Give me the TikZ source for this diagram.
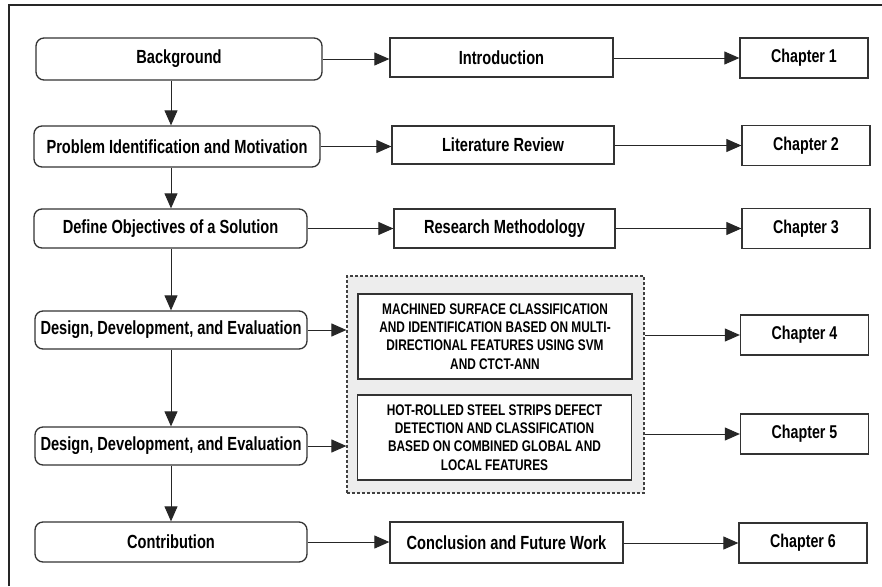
\documentclass[tikz,border=0pt]{standalone}
\usepackage{fontspec}
\setmainfont{Liberation Sans}
\newfontfamily\narrowsans[FakeStretch=0.77]{Liberation Sans}
\usetikzlibrary{arrows.meta,positioning,calc}

\begin{document}
\begin{tikzpicture}[x=1pt,y=-1pt,
  stage/.style={draw=black!80,line width=1.3pt,rounded corners=8pt,inner sep=0pt,
    font=\narrowsans\fontsize{19}{22}\selectfont\bfseries},
  part/.style={draw=black!80,line width=1.3pt,inner sep=0pt,
    font=\narrowsans\fontsize{19}{22}\selectfont\bfseries},
  chap/.style={part,minimum width=128pt,minimum height=40pt,
    font=\narrowsans\fontsize{18.5}{22}\selectfont\bfseries},
  paper/.style={part,fill=white,minimum width=274pt,minimum height=85pt,align=center,
    font=\narrowsans\fontsize{15.4}{18.3}\selectfont\bfseries},
  flow/.style={line width=1pt,draw=black!85,-{Triangle[length=15pt,width=13pt]}}]
\useasboundingbox (0,0) rectangle (882,586);
%\draw[very thin,color=gray,step=50] (0,0) grid (882,586);
\draw[line width=1.3pt,black!85] (9,586) -- (9,5) -- (882,5);

% stages
\node[stage,minimum width=286pt,minimum height=42pt] (bg) at (179,59) {Background};
\node[stage,minimum width=286pt,minimum height=41pt] (prob) at (177,146.5) {Problem Identification and Motivation};
\node[stage,minimum width=273pt,minimum height=39pt] (obj) at (170.5,228.5) {Define Objectives of a Solution};
\node[stage,minimum width=272pt,minimum height=38pt] (dde1) at (171,330) {Design, Development, and Evaluation};
\node[stage,minimum width=272pt,minimum height=38pt] (dde2) at (171,446) {Design, Development, and Evaluation};
\node[stage,minimum width=272pt,minimum height=40pt] (contrib) at (171,542) {Contribution};

% thesis parts
\node[part,minimum width=223pt,minimum height=39pt] (intro) at (501.5,57.5) {Introduction};
\node[part,minimum width=222pt,minimum height=38pt] (lit) at (503,145) {Literature Review};
\node[part,minimum width=221pt,minimum height=39pt] (meth) at (504.5,228.5) {Research Methodology};
\node[part,minimum width=233pt,minimum height=41pt] (concl) at (506.5,542.5) {Conclusion and Future Work};

\node[draw=black!75,line width=1.2pt,densely dashed,fill=black!7,minimum width=297pt,minimum height=217pt] (papers) at (495.5,384.5) {};
\node[paper] (surf) at (495,336.5) {MACHINED SURFACE CLASSIFICATION\\AND IDENTIFICATION BASED ON MULTI-\\DIRECTIONAL FEATURES USING SVM\\AND CTCT-ANN};
\node[paper] (steel) at (494.5,437.5) {HOT-ROLLED STEEL STRIPS DEFECT\\DETECTION AND CLASSIFICATION\\BASED ON COMBINED GLOBAL AND\\LOCAL FEATURES};

% chapters
\node[chap] (ch1) at (804,58) {Chapter 1};
\node[chap] (ch2) at (806,145.5) {Chapter 2};
\node[chap] (ch3) at (806,228.5) {Chapter 3};
\node[chap] (ch4) at (804.5,335) {Chapter 4};
\node[chap] (ch5) at (804.5,434) {Chapter 5};
\node[chap] (ch6) at (803,543) {Chapter 6};

% down the stages
\draw[flow] (dde1.north |- bg.south) -- (dde1.north |- prob.north);
\draw[flow] (dde1.north |- prob.south) -- (dde1.north |- obj.north);
\draw[flow] (dde1.north |- obj.south) -- (dde1.north);
\draw[flow] (dde1.south) -- (dde2.north);
\draw[flow] (dde2.south) -- (contrib.north);

% across
\draw[flow] (bg.east) -- (bg.east -| intro.west);
\draw[flow] (prob.east) -- (prob.east -| lit.west);
\draw[flow] (obj.east) -- (obj.east -| meth.west);
\draw[flow] (dde1.east) -- (dde1.east -| papers.west);
\draw[flow] (dde2.east) -- (dde2.east -| papers.west);
\draw[flow] (contrib.east) -- (contrib.east -| concl.west);

\draw[flow] (intro.east |- ch1.west) -- (ch1.west);
\draw[flow] (lit.east |- ch2.west) -- (ch2.west);
\draw[flow] (meth.east |- ch3.west) -- (ch3.west);
\draw[flow] (papers.east |- ch4.west) -- (ch4.west);
\draw[flow] (papers.east |- ch5.west) -- (ch5.west);
\draw[flow] (concl.east |- ch6.west) -- (ch6.west);
\end{tikzpicture}
\end{document}
